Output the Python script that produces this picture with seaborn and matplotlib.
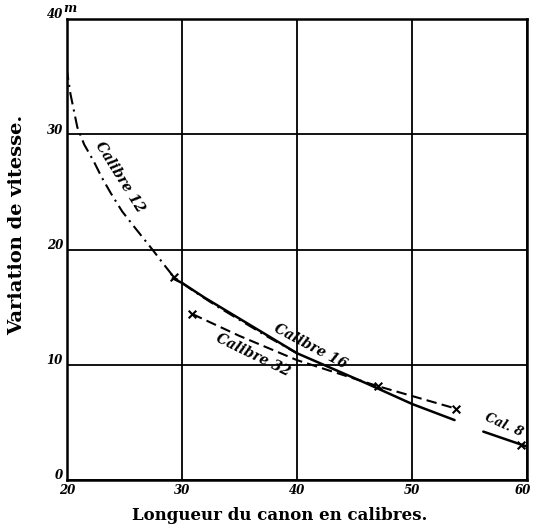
import numpy as np
import pandas as pd
import seaborn as sns
import matplotlib.pyplot as plt
import matplotlib.transforms as mtransforms

# curves
cal12_x = [19.95, 20.3, 20.9, 21.5, 22.3, 23.0, 23.8, 24.8, 25.9, 26.7, 27.5, 28.5, 29.3,
           31.0, 33.0, 35.0, 37.5, 40.0]
cal12_y = [35.8, 33.5, 30.6, 29.1, 27.7, 26.3, 24.9, 23.3, 21.9, 20.9, 19.9, 18.6, 17.6,
           16.4, 15.1, 13.9, 12.4, 11.0]

cal16_x = [29.2, 30.0, 32.0, 35.0, 38.0, 40.0, 43.0, 46.0, 50.0, 53.7]
cal16_y = [17.5, 17.1, 15.8, 14.0, 12.2, 11.0, 9.7, 8.4, 6.6, 5.2]

cal32_x = [30.9, 35.0, 40.0, 47.0, 53.8]
cal32_y = [14.4, 12.5, 10.4, 8.15, 6.2]

cal8_x = [56.2, 60.0]
cal8_y = [4.2, 2.9]

mark_x = [29.3, 30.9, 47.0, 53.8, 59.5]
mark_y = [17.6, 14.4, 8.15, 6.2, 3.0]

x_ticks = [20, 30, 40, 50, 60]
y_ticks = [0, 10, 20, 30, 40]

sns.set_style("white")
plt.rcParams["text.color"] = "black"
plt.rcParams["xtick.color"] = "black"
plt.rcParams["ytick.color"] = "black"
plt.rcParams["axes.labelcolor"] = "black"

fig = plt.figure(figsize=(5.34, 5.27), dpi=100)
ax = fig.add_axes([67/534, 1-480/527, (527-67)/534, (480-19)/527])

df12 = pd.DataFrame({"x": cal12_x, "y": cal12_y})
df16 = pd.DataFrame({"x": cal16_x, "y": cal16_y})
df32 = pd.DataFrame({"x": cal32_x, "y": cal32_y})
df8 = pd.DataFrame({"x": cal8_x, "y": cal8_y})
dfm = pd.DataFrame({"x": mark_x, "y": mark_y})

sns.lineplot(data=df12, x="x", y="y", sort=False, estimator=None, color="black", lw=1.5, ax=ax)
ax.lines[-1].set_dashes([6, 2.5, 1, 2.5])
sns.lineplot(data=df16, x="x", y="y", sort=False, estimator=None, color="black", lw=1.8, ax=ax)
sns.lineplot(data=df32, x="x", y="y", sort=False, estimator=None, color="black", lw=1.5, ax=ax)
ax.lines[-1].set_dashes([5, 2.5])
sns.lineplot(data=df8, x="x", y="y", sort=False, estimator=None, color="black", lw=1.8, ax=ax)
sns.scatterplot(data=dfm, x="x", y="y", marker="x", s=30, color="black", linewidth=1.5, ax=ax, zorder=5)

ax.set_xlim(20, 60)
ax.set_ylim(0, 40)
ax.set_xticks(x_ticks)
ax.set_yticks(y_ticks)
ax.grid(True, color="black", lw=1.3)
for s in ax.spines.values():
    s.set_color("black")
    s.set_linewidth(1.8)

tick_font = dict(family="DejaVu Serif", style="italic", weight="bold", size=8.5)
ax.set_xticklabels([str(v) for v in x_ticks], fontdict=tick_font)
ax.set_yticklabels([str(v) for v in y_ticks], fontdict=tick_font)
ax.tick_params(length=0, pad=3)
off = mtransforms.ScaledTranslation(0, 4/72, fig.dpi_scale_trans)
for lab in ax.get_yticklabels():
    lab.set_transform(lab.get_transform() + off)
xlabs = ax.get_xticklabels()
xlabs[-1].set_transform(xlabs[-1].get_transform() + mtransforms.ScaledTranslation(-3/72, 0, fig.dpi_scale_trans))
ax.text(0.0, 40, "m", fontdict=dict(family="DejaVu Serif", style="italic", weight="bold", size=9),
        transform=mtransforms.blended_transform_factory(ax.transAxes, ax.transData)
        + mtransforms.ScaledTranslation(-3/72, 3/72, fig.dpi_scale_trans),
        ha="left", va="bottom")

ax.set_xlabel("Longueur du canon en calibres.", fontsize=12, family="DejaVu Serif", weight="bold")
ax.set_ylabel("Variation de vitesse.", fontsize=14, family="DejaVu Serif", weight="bold")
ax.xaxis.set_label_coords(0.463, -0.058)
ax.yaxis.set_label_coords(-0.088, 0.553)

lab_font = dict(family="DejaVu Serif", style="italic", weight="bold", size=10)
ax.text(24.6, 26.3, "Calibre 12", fontdict=lab_font, rotation=-58, ha="center", va="center")
ax.text(41.2, 11.6, "Calibre 16", fontdict=lab_font, rotation=-28, ha="center", va="center")
ax.text(36.2, 10.8, "Calibre 32", fontdict=lab_font, rotation=-26, ha="center", va="center")
ax.text(58.0, 4.8, "Cal. 8", fontdict=dict(lab_font, size=9), rotation=-24, ha="center", va="center")

fig.savefig("out.png", dpi=100)
